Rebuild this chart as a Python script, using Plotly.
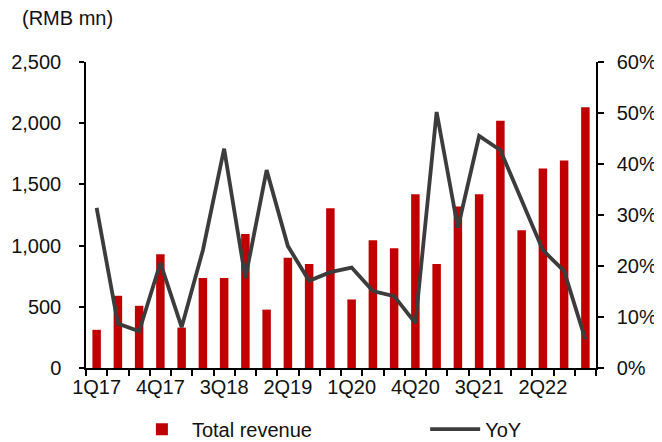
import plotly.graph_objects as go

quarters = ["1Q17", "2Q17", "3Q17", "4Q17", "1Q18", "2Q18", "3Q18", "4Q18",
            "1Q19", "2Q19", "3Q19", "4Q19", "1Q20", "2Q20", "3Q20", "4Q20",
            "1Q21", "2Q21", "3Q21", "4Q21", "1Q22", "2Q22", "3Q22", "4Q22"]
revenue = [312, 590, 508, 930, 330, 735, 735, 1095,
           477, 900, 850, 1305, 560, 1043, 978, 1420,
           850, 1320, 1420, 2020, 1125, 1630, 1695, 2130]
yoy = [31.4, 8.7, 7.2, 20.6, 8.0, 23.1, 43.0, 17.6,
       38.8, 23.9, 17.1, 18.8, 19.7, 15.1, 14.1, 8.8,
       50.2, 27.5, 45.5, 42.7, 32.9, 23.1, 19.0, 5.6]
label_every = 3
left_ticks = [0, 500, 1000, 1500, 2000, 2500]
right_ticks = [0, 10, 20, 30, 40, 50, 60]

x_idx = list(range(len(quarters)))
tickvals = x_idx[::label_every]
ticktext = quarters[::label_every]

FONT = "Arial, Liberation Sans, sans-serif"
FS = 20

fig = go.Figure()
fig.add_trace(go.Bar(
    x=x_idx, y=revenue, name="Total revenue",
    marker=dict(color="#C00000", line=dict(width=0)),
    yaxis="y", legend="legend",
))
fig.add_trace(go.Scatter(
    x=x_idx, y=yoy, name="YoY", mode="lines",
    line=dict(color="#3C3C3C", width=3.8),
    yaxis="y2", legend="legend2",
))

legend_common = dict(orientation="h", yanchor="middle", y=-0.2, xanchor="left",
                     font=dict(size=FS, family=FONT, color="#111111"),
                     bgcolor="rgba(0,0,0,0)", itemwidth=50)

# page body has an 8px margin, so the figure is sized to fit the window
fig.update_layout(
    width=654, height=434,
    margin=dict(l=78, r=66, t=54, b=74, autoexpand=False),
    paper_bgcolor="white", plot_bgcolor="white",
    font=dict(family=FONT, size=FS, color="#111111"),
    bargap=0.6,
    showlegend=True,
    legend=dict(x=0.09, **legend_common),
    legend2=dict(x=0.665, **legend_common),
    xaxis=dict(
        range=[-0.5, len(quarters) - 0.5],
        tickmode="array", tickvals=tickvals, ticktext=ticktext,
        ticks="", showline=True, linecolor="black", linewidth=1.5,
        showgrid=False, zeroline=False,
        minor=dict(ticks="outside", tick0=-0.5, dtick=1, ticklen=6,
                   tickcolor="black", tickwidth=1.5, showgrid=False),
        tickfont=dict(size=FS),
    ),
    yaxis=dict(
        range=[0, 2500], tickmode="array", tickvals=left_ticks,
        ticktext=[f"{v:,}" for v in left_ticks],
        ticks="outside", ticklen=5, tickwidth=1.5, tickcolor="black",
        showline=True, linecolor="black", linewidth=1.5,
        showgrid=False, zeroline=False, ticklabelstandoff=14,
        tickfont=dict(size=FS),
    ),
    yaxis2=dict(
        range=[0, 60], tickmode="array", tickvals=right_ticks,
        ticktext=[f"{v}%" for v in right_ticks],
        overlaying="y", side="right",
        ticks="outside", ticklen=6, tickwidth=1.5, tickcolor="black",
        showline=True, linecolor="black", linewidth=1.5,
        showgrid=False, zeroline=False, ticklabelstandoff=9,
        tickfont=dict(size=FS),
    ),
    annotations=[dict(
        text="(RMB mn)", xref="paper", yref="paper", x=-0.13, y=1.0,
        xanchor="left", yanchor="middle", yshift=44, showarrow=False,
        font=dict(size=FS, family=FONT, color="#111111"),
    )],
)

fig.write_html("out.html")
